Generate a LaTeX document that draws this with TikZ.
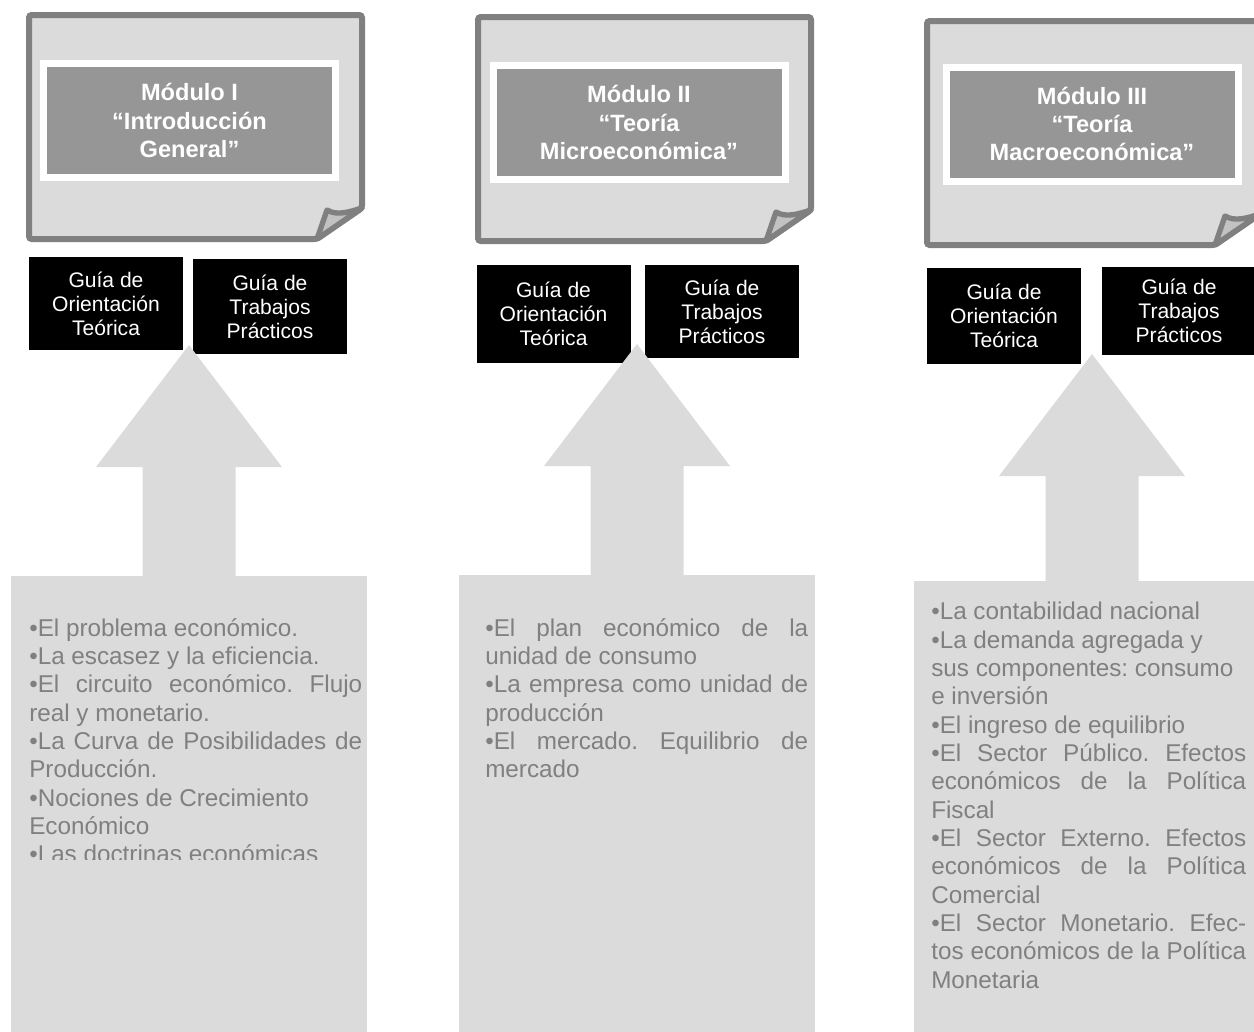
\documentclass[tikz,border=0pt]{standalone}
\usepackage{fontspec}
\setmainfont{Liberation Sans}
\usetikzlibrary{calc}
\frenchspacing
\definecolor{pageline}{gray}{0.5}
\definecolor{pagefill}{gray}{0.86}
\definecolor{titlefill}{gray}{0.59}
\definecolor{foldfill}{gray}{0.76}
\definecolor{itemgray}{gray}{0.5}
\newcommand{\titlefont}{\fontsize{17.7pt}{21.25pt}\selectfont\bfseries}
\newcommand{\guidefont}{\fontsize{15.8pt}{18pt}\selectfont}
\newcommand{\itemfont}{\fontsize{18.2pt}{21.25pt}\selectfont\frenchspacing\parindent=0pt\tolerance=10000\hyphenpenalty=10000}

\begin{document}
\begin{tikzpicture}[x=0.75pt, y=-0.75pt,
    page/.style={draw=pageline, fill=pagefill, line width=4.5pt, rounded corners=2pt},
    fold/.style={draw=pageline, fill=foldfill, line width=4pt, line join=round},
    modpage/.pic={
      \draw[page] (0,0) -- (333,0) -- (333,193) -- (288,224) -- (0,224) -- cycle;
      \filldraw[fold] (288,224) -- (298,195) .. controls (308,201) and (320,197) .. (333,193) -- cycle;
    },
    titlebox/.style={draw=white, line width=5.25pt, fill=titlefill, text=white, font=\titlefont,
      align=center, minimum width=219pt, minimum height=85.5pt, inner sep=0pt},
    guide/.style={fill=black, text=white, font=\guidefont, align=center, minimum width=115.5pt, inner sep=0pt},
    bodybox/.style={fill=pagefill, minimum width=267pt, minimum height=352.5pt, anchor=north, inner sep=0pt},
    items/.style={anchor=north west, inner sep=0pt, text=itemgray, font=\itemfont, align=justify},
    bigarrow/.style={fill=pagefill}]
  \useasboundingbox (0,0) rectangle (1254,1032);

  % Modulo I
  \pic at (29,15) {modpage};
  \node[titlebox] (mod1) at (189.5,120.5) {Módulo I\\“Introducción\\General”};
  \node[guide, minimum height=69.75pt] (teo1) at (106,303.5) {Guía de\\Orientación\\Teórica};
  \node[guide, minimum height=71.25pt] (tp1) at (270,306.5) {Guía de\\Trabajos\\Prácticos};
  \node[bodybox] (box1) at (189,576) {};
  \fill[bigarrow] (box1.north) ++(-46.5,1) -- ++(0,-110) -- ++(-46.5,0) -- ++(93,-122)
    -- ++(93,122) -- ++(-46.5,0) -- ++(0,110) -- cycle;
  \begin{scope}
    \clip (0,560) rectangle (400,859);
    \node[items, text width=249.75pt] (list1) at (29,618) {%
      •El problema económico.\par
      •La escasez y la eficiencia.\par
      •El circuito económico. Flujo\linebreak real y monetario.\par
      •La Curva de Posibilidades de\linebreak Producción.\par
      •Nociones de Crecimiento\newline Económico\par
      •Las doctrinas económicas};
  \end{scope}

  % Modulo II
  \pic at (478,17) {modpage};
  \node[titlebox] (mod2) at (639,122.5) {Módulo II\\“Teoría\\Microeconómica”};
  \node[guide, minimum height=73.5pt] (teo2) at (553.5,314) {Guía de\\Orientación\\Teórica};
  \node[guide, minimum height=69.75pt] (tp2) at (722,311.5) {Guía de\\Trabajos\\Prácticos};
  \node[bodybox] (box2) at (637,575) {};
  \fill[bigarrow] (box2.north) ++(-46.5,1) -- ++(0,-110) -- ++(-46.5,0) -- ++(93,-122)
    -- ++(93,122) -- ++(-46.5,0) -- ++(0,110) -- cycle;
  \node[items, text width=242.25pt] (list2) at (485,618) {%
    •El plan económico de la\linebreak unidad de consumo\par
    •La empresa como unidad de\linebreak producción\par
    •El mercado. Equilibrio de\linebreak mercado};

  % Modulo III
  \pic at (927,21) {modpage};
  \node[titlebox] (mod3) at (1092,124) {Módulo III\\“Teoría\\Macroeconómica”};
  \node[guide, minimum height=72pt] (teo3) at (1004,316) {Guía de\\Orientación\\Teórica};
  \node[guide, minimum height=66pt] (tp3) at (1179,311) {Guía de\\Trabajos\\Prácticos};
  \node[bodybox] (box3) at (1092,581) {};
  \fill[bigarrow] (box3.north) ++(-46.5,1) -- ++(0,-106) -- ++(-46.5,0) -- ++(93,-122)
    -- ++(93,122) -- ++(-46.5,0) -- ++(0,106) -- cycle;
  \node[items, text width=236.25pt] (list3) at (931,602) {%
    •La contabilidad nacional\par
    •La demanda agregada y\newline sus componentes: consumo\newline e inversión\par
    •El ingreso de equilibrio\par
    •El Sector Público. Efectos\linebreak económicos de la Política\linebreak Fiscal\par
    •El Sector Externo. Efectos\linebreak económicos de la Política\linebreak Comercial\par
    •El Sector Monetario. Efec-\linebreak tos económicos de la Política\linebreak Monetaria};
\end{tikzpicture}
\end{document}
